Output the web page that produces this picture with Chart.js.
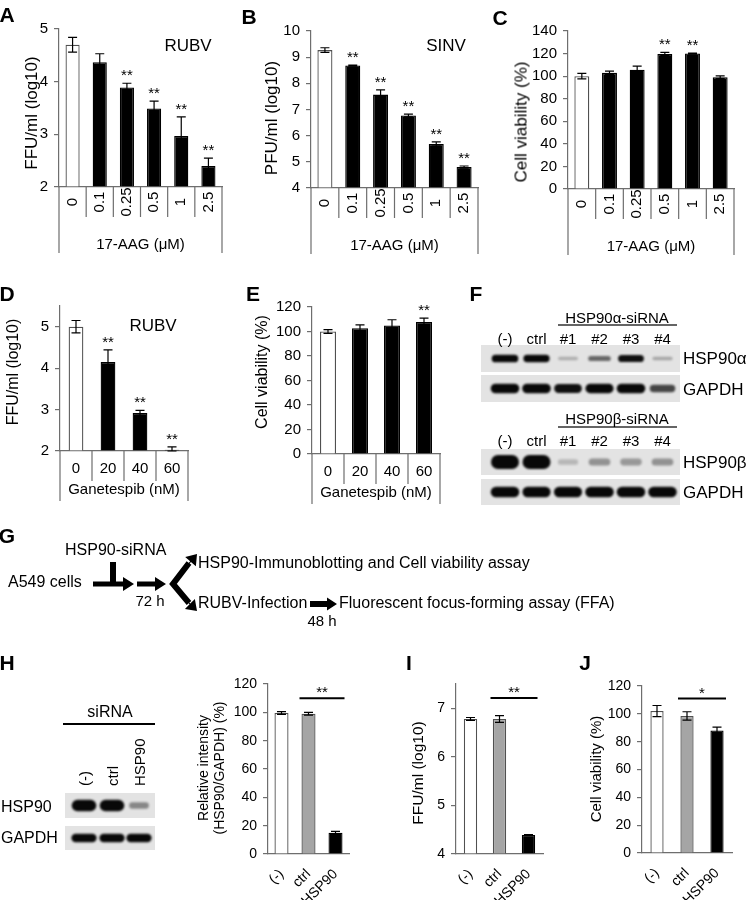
<!DOCTYPE html>
<html>
<head>
<meta charset="utf-8">
<script src="https://cdn.jsdelivr.net/npm/chart.js@4.4.1/dist/chart.umd.min.js"></script>
<style>
  body { margin: 0; background: #fff; }
  #fig { position: relative; width: 750px; height: 900px; overflow: hidden; background: #fff;
         font-family: 'Liberation Sans', Arial, sans-serif; color: #000; }
  #fig canvas { position: absolute; left: 0; top: 0; }
  .t { position: absolute; white-space: nowrap; line-height: 1; }
</style>
</head>
<body>
<div id="fig"><canvas id="deco" width="750" height="900"></canvas></div>
<script>
// values
const aagDoses = ['0', '0.1', '0.25', '0.5', '1', '2.5'];
const rubvA = [4.70, 4.37, 3.89, 3.49, 2.97, 2.40];
const rubvAErr = [0.14, 0.16, 0.08, 0.14, 0.36, 0.15];
const rubvASig = ['', '', '**', '**', '**', '**'];
const sinvB = [9.27, 8.68, 7.57, 6.77, 5.68, 4.80];
const sinvBErr = [0.09, 0.02, 0.18, 0.05, 0.08, 0.04];
const sinvBSig = ['', '**', '**', '**', '**', '**'];
const viabC = [100, 102.9, 105.6, 119.6, 120, 99];
const viabCErr = [2.4, 1.5, 3.2, 1.5, 0.5, 1.2];
const viabCSig = ['', '', '', '**', '**', ''];
const ganDoses = ['0', '20', '40', '60'];
const rubvD = [5.0, 4.15, 2.92, 2.03];
const rubvDErr = [0.15, 0.29, 0.06, 0.07];
const rubvDSig = ['', '**', '**', '**'];
const viabE = [100, 102.7, 105, 107.8];
const viabEErr = [1.5, 2.7, 4.6, 3.2];
const viabESig = ['', '', '', '**'];
const siLanes = ['(-)', 'ctrl', 'HSP90'];
const relIntH = [99.5, 99, 15];
const relIntHErr = [1, 1, 1];
const ffuI = [6.78, 6.78, 4.39];
const ffuIErr = [0.03, 0.07, 0.01];
const viabJ = [102, 98.5, 88];
const viabJErr = [4, 3, 2.5];

// blot band strengths (0..1)
const fLanes = ['(-)', 'ctrl', '#1', '#2', '#3', '#4'];
const hsp90aBands = [0.95, 0.9, 0.12, 0.45, 0.85, 0.15];
const gapdhABands = [0.95, 0.95, 0.85, 0.9, 0.95, 0.6];
const hsp90bBands = [1, 1, 0.08, 0.25, 0.22, 0.25];
const gapdhBBands = [0.95, 0.9, 0.9, 0.95, 0.95, 0.95];
const hHspBands = [0.95, 0.95, 0.3];
const hGapdhBands = [0.9, 0.9, 0.9];

const FONT = "'Liberation Sans', Arial, sans-serif";
const AXIS = '#6e6e6e';
Chart.defaults.font.family = FONT;
Chart.defaults.color = '#000';

const fig = document.getElementById('fig');
const fillOf = { w: '#ffffff', g: '#a5a5a5', k: '#000000' };
const edgeOf = { w: '#505050', g: '#505050', k: '#000000' };

function txt(s, x, y, size, opt = {}) {
  const d = document.createElement('div');
  d.className = 't';
  d.textContent = s;
  d.style.left = x + 'px';
  d.style.top = y + 'px';
  d.style.fontSize = size + 'px';
  if (opt.bold) d.style.fontWeight = 'bold';
  if (opt.width) { d.style.width = opt.width + 'px'; d.style.textAlign = 'left'; }
  const ax = opt.align === 'left' ? '0' : '-50%';
  d.style.transform = 'translate(' + ax + ',-50%)' + (opt.rot ? ' rotate(' + opt.rot + 'deg)' : '');
  fig.appendChild(d);
}

// error bars + asterisks
const errBars = {
  id: 'errBars',
  afterDatasetsDraw(chart, args, o) {
    const ctx = chart.ctx, ys = chart.scales.y;
    const vals = chart.data.datasets[0].data;
    ctx.save();
    ctx.strokeStyle = '#000';
    ctx.lineWidth = 1.2;
    ctx.fillStyle = '#000';
    ctx.font = '15px ' + FONT;
    ctx.textAlign = 'center';
    chart.getDatasetMeta(0).data.forEach((bar, i) => {
      const hi = ys.getPixelForValue(vals[i] + o.errors[i]);
      const lo = ys.getPixelForValue(Math.max(vals[i] - o.errors[i], ys.min));
      ctx.beginPath();
      ctx.moveTo(bar.x, hi); ctx.lineTo(bar.x, lo);
      ctx.moveTo(bar.x - 4.5, hi); ctx.lineTo(bar.x + 4.5, hi);
      ctx.moveTo(bar.x - 4.5, lo); ctx.lineTo(bar.x + 4.5, lo);
      ctx.stroke();
      if (o.sig && o.sig[i]) ctx.fillText(o.sig[i], bar.x, hi - 3);
    });
    ctx.restore();
  }
};

// excel-like boxed category axis
const groupAxis = {
  id: 'groupAxis',
  afterDraw(chart, args, o) {
    const ctx = chart.ctx, a = chart.chartArea, xs = chart.scales.x;
    const n = chart.data.labels.length;
    ctx.save();
    ctx.strokeStyle = AXIS;
    ctx.lineWidth = 1.2;
    ctx.beginPath();
    for (let i = 0; i <= n; i++) {
      const edge = i === 0 || i === n;
      const px = i === 0 ? a.left : i === n ? a.right : (xs.getPixelForTick(i - 1) + xs.getPixelForTick(i)) / 2;
      ctx.moveTo(px, a.bottom);
      ctx.lineTo(px, a.bottom + (edge ? o.outer : o.inner));
    }
    ctx.stroke();
    ctx.fillStyle = '#000';
    ctx.textAlign = 'center';
    ctx.textBaseline = 'middle';
    ctx.font = o.labelSize + 'px ' + FONT;
    chart.data.labels.forEach((lab, i) => {
      ctx.save();
      ctx.translate(xs.getPixelForTick(i), a.bottom + o.labelOffset);
      if (o.rotate) ctx.rotate(-Math.PI / 2);
      ctx.fillText(lab, 0, 0);
      ctx.restore();
    });
    ctx.font = o.titleSize + 'px ' + FONT;
    ctx.fillText(o.title, (a.left + a.right) / 2, a.bottom + o.titleOffset);
    ctx.restore();
  }
};

// significance bracket
const bracket = {
  id: 'bracket',
  afterDraw(chart, args, o) {
    const ctx = chart.ctx, xs = chart.scales.x, ys = chart.scales.y;
    const x1 = xs.getPixelForTick(o.from) - 9, x2 = xs.getPixelForTick(o.to) + 9;
    const y = ys.getPixelForValue(o.level);
    ctx.save();
    ctx.strokeStyle = '#000';
    ctx.lineWidth = 2;
    ctx.beginPath(); ctx.moveTo(x1, y); ctx.lineTo(x2, y); ctx.stroke();
    ctx.fillStyle = '#000';
    ctx.font = '15px ' + FONT;
    ctx.textAlign = 'center';
    ctx.fillText(o.text, (x1 + x2) / 2, y - 1);
    ctx.restore();
  }
};

// each chart gets a full-page canvas; paddings put the plot area at page coords L,R,T,B
function barChart(o) {
  const cv = document.createElement('canvas');
  cv.width = 750; cv.height = 900;
  fig.appendChild(cv);
  const kinds = o.kinds.split('');
  return new Chart(cv, {
    type: 'bar',
    data: {
      labels: o.labels,
      datasets: [{
        data: o.values,
        base: o.min,
        backgroundColor: kinds.map(k => fillOf[k]),
        borderColor: kinds.map(k => edgeOf[k]),
        borderWidth: 1.3,
        barPercentage: o.barPct,
        categoryPercentage: 1
      }]
    },
    options: {
      responsive: false,
      animation: false,
      devicePixelRatio: 1,
      layout: { padding: { top: o.T, right: 750 - o.R, left: 0, bottom: 0 } },
      plugins: {
        legend: { display: false },
        tooltip: { enabled: false },
        errBars: { errors: o.errors, sig: o.sig },
        groupAxis: o.group || false,
        bracket: o.bracket || false
      },
      scales: {
        x: {
          afterFit: s => { s.height = 900 - o.B; },
          grid: { display: false },
          border: { color: AXIS, width: 1.2 },
          ticks: o.rot45
            ? { minRotation: 45, maxRotation: 45, autoSkip: false, padding: 4, font: { size: 14 }, color: '#000' }
            : { display: false }
        },
        y: {
          min: o.min,
          max: o.max,
          afterFit: s => { s.width = o.L; },
          afterBuildTicks: s => {
            s.ticks = s.ticks.filter(t => Math.abs(t.value / o.step - Math.round(t.value / o.step)) < 1e-6);
          },
          ticks: { stepSize: o.step, padding: 6, font: { size: o.tickSize }, color: '#000' },
          grid: { drawOnChartArea: false, tickLength: 5, color: AXIS, lineWidth: 1.2 },
          border: { color: AXIS, width: 1.2 }
        }
      }
    },
    plugins: [errBars, groupAxis, bracket]
  });
}

const aagAxis = { inner: 30, outer: 66, labelOffset: 15, rotate: true, labelSize: 15, title: '17-AAG (μM)', titleOffset: 58, titleSize: 15 };
const ganAxis = { inner: 30, outer: 50, labelOffset: 18, rotate: false, labelSize: 15, title: 'Ganetespib (nM)', titleOffset: 39, titleSize: 15 };

barChart({ labels: aagDoses, values: rubvA, errors: rubvAErr, sig: rubvASig, kinds: 'wkkkkk',
  L: 59, R: 222, T: 29, B: 187, min: 2, max: 5, step: 1, tickSize: 15, barPct: 0.52, group: aagAxis });
barChart({ labels: aagDoses, values: sinvB, errors: sinvBErr, sig: sinvBSig, kinds: 'wkkkkk',
  L: 311, R: 478, T: 31, B: 188, min: 4, max: 10, step: 1, tickSize: 15, barPct: 0.54, group: aagAxis });
barChart({ labels: aagDoses, values: viabC, errors: viabCErr, sig: viabCSig, kinds: 'wkkkkk',
  L: 568, R: 734, T: 31, B: 189, min: 0, max: 140, step: 20, tickSize: 15, barPct: 0.54, group: aagAxis });
barChart({ labels: ganDoses, values: rubvD, errors: rubvDErr, sig: rubvDSig, kinds: 'wkkk',
  L: 60, R: 188, T: 306, B: 451, min: 2, max: 5.5, step: 1, tickSize: 15, barPct: 0.46, group: ganAxis });
barChart({ labels: ganDoses, values: viabE, errors: viabEErr, sig: viabESig, kinds: 'wkkk',
  L: 312, R: 440, T: 307, B: 454, min: 0, max: 120, step: 20, tickSize: 15, barPct: 0.5, group: ganAxis });
barChart({ labels: siLanes, values: relIntH, errors: relIntHErr, sig: null, kinds: 'wgk',
  L: 268, R: 349, T: 684, B: 854, min: 0, max: 120, step: 20, tickSize: 14, barPct: 0.52, rot45: true,
  bracket: { from: 1, to: 2, level: 110, text: '**' } });
barChart({ labels: siLanes, values: ffuI, errors: ffuIErr, sig: null, kinds: 'wgk',
  L: 456, R: 543, T: 684, B: 854, min: 4, max: 7.5, step: 1, tickSize: 14, barPct: 0.46, rot45: true,
  bracket: { from: 1, to: 2, level: 7.21, text: '**' } });
barChart({ labels: siLanes, values: viabJ, errors: viabJErr, sig: null, kinds: 'wgk',
  L: 642, R: 732, T: 686, B: 853, min: 0, max: 120, step: 20, tickSize: 14, barPct: 0.44, rot45: true,
  bracket: { from: 1, to: 2, level: 111, text: '*' } });

// axis titles and annotations
txt('FFU/ml (log10)', 31, 113, 17, { rot: -90 });
txt('PFU/ml (log10)', 271, 118, 17, { rot: -90 });
txt('Cell viability (%)', 521, 122, 17, { rot: -90 });
txt('FFU/ml (log10)', 13, 372, 16, { rot: -90 });
txt('Cell viability (%)', 262, 372, 16, { rot: -90 });
txt('Relative intensity', 203, 768, 14, { rot: -90 });
txt('(HSP90/GAPDH) (%)', 219, 768, 14, { rot: -90 });
txt('FFU/ml (log10)', 418, 773, 15.5, { rot: -90 });
txt('Cell viability (%)', 595, 769, 15, { rot: -90 });
txt('RUBV', 188, 45, 17);
txt('SINV', 446, 45, 17);
txt('RUBV', 153, 325, 17);

[['A', 7, 14], ['B', 249, 16], ['C', 500, 17], ['D', 7, 293], ['E', 253, 293], ['F', 476, 293],
 ['G', 7, 535], ['H', 7, 662], ['I', 409, 662], ['J', 585, 662]].forEach(p => txt(p[0], p[1], p[2], 21, { bold: true }));

// blots and schematic
const dc = document.getElementById('deco').getContext('2d');

function pill(cx, cy, w, t) {
  const r = t / 2;
  dc.beginPath();
  dc.moveTo(cx - w / 2 + r, cy - r);
  dc.lineTo(cx + w / 2 - r, cy - r);
  dc.arc(cx + w / 2 - r, cy, r, -Math.PI / 2, Math.PI / 2);
  dc.lineTo(cx - w / 2 + r, cy + r);
  dc.arc(cx - w / 2 + r, cy, r, Math.PI / 2, Math.PI * 1.5);
  dc.closePath();
  dc.fill();
}

function strip(x, y, w, h, centers, levels, bandW, bandH) {
  dc.fillStyle = '#e3e3e3';
  dc.fillRect(x, y, w, h);
  centers.forEach((cx, i) => {
    const lv = levels[i];
    dc.save();
    dc.filter = 'blur(1.2px)';
    dc.fillStyle = 'rgba(8,8,8,' + Math.min(1, 0.12 + lv) + ')';
    pill(cx, y + h / 2, bandW * (0.7 + 0.3 * lv), bandH * (0.35 + 0.65 * lv));
    dc.restore();
  });
}

const fLaneX = fLanes.map((_, i) => 505 + 31.5 * i);
strip(481, 345, 199, 27, fLaneX, hsp90aBands, 27, 8);
strip(481, 375, 199, 27, fLaneX, gapdhABands, 29, 10);
strip(481, 449, 199, 26, fLaneX, hsp90bBands, 28, 14);
strip(481, 479, 199, 26, fLaneX, gapdhBBands, 29, 11);

dc.strokeStyle = '#333';
dc.lineWidth = 1.5;
dc.beginPath();
dc.moveTo(558, 325); dc.lineTo(677, 325);
dc.moveTo(558, 427); dc.lineTo(677, 427);
dc.stroke();
txt('HSP90α-siRNA', 617, 317, 15);
txt('HSP90β-siRNA', 617, 418, 15);
fLanes.forEach((l, i) => { txt(l, fLaneX[i], 338, 15); txt(l, fLaneX[i], 440, 15); });
txt('HSP90α', 683, 358, 17, { align: 'left' });
txt('GAPDH', 683, 389, 17, { align: 'left' });
txt('HSP90β', 683, 462, 17, { align: 'left' });
txt('GAPDH', 683, 492, 17, { align: 'left' });

const hLaneX = [84, 112, 139];
strip(65, 793, 90, 25, hLaneX, hHspBands, 25, 12);
strip(65, 826, 90, 24, hLaneX, hGapdhBands, 26, 9);
dc.strokeStyle = '#000';
dc.lineWidth = 2;
dc.beginPath(); dc.moveTo(63, 724); dc.lineTo(155, 724); dc.stroke();
txt('siRNA', 110, 712, 16);
siLanes.forEach((l, i) => txt(l, hLaneX[i], 786 - 30, 15, { rot: -90, width: 60 }));
txt('HSP90', 1, 807, 16, { align: 'left' });
txt('GAPDH', 1, 838, 16, { align: 'left' });

function blockArrow(x1, y1, x2, y2, t, hl, hw) {
  const ang = Math.atan2(y2 - y1, x2 - x1), len = Math.hypot(x2 - x1, y2 - y1);
  dc.save();
  dc.translate(x1, y1);
  dc.rotate(ang);
  dc.fillStyle = '#000';
  dc.beginPath();
  dc.moveTo(0, -t / 2); dc.lineTo(len - hl, -t / 2); dc.lineTo(len - hl, -hw / 2);
  dc.lineTo(len, 0); dc.lineTo(len - hl, hw / 2); dc.lineTo(len - hl, t / 2); dc.lineTo(0, t / 2);
  dc.closePath();
  dc.fill();
  dc.restore();
}

dc.fillStyle = '#000';
dc.fillRect(110, 562, 6, 24);
blockArrow(93, 584, 134, 584, 5, 11, 14);
blockArrow(137, 584, 166, 584, 5, 11, 14);
dc.strokeStyle = '#000';
dc.lineWidth = 6;
dc.lineJoin = 'miter';
dc.beginPath(); dc.moveTo(189, 563); dc.lineTo(173, 584); dc.lineTo(189, 603); dc.stroke();
blockArrow(186, 567, 197, 554, 1, 10, 14);
blockArrow(186, 600, 197, 611, 1, 10, 14);
blockArrow(310, 604, 337, 604, 6, 10, 13);

txt('HSP90-siRNA', 65, 550, 16, { align: 'left' });
txt('A549 cells', 8, 582, 16, { align: 'left' });
txt('72 h', 150, 600, 15);
txt('HSP90-Immunoblotting and Cell viability assay', 198, 563, 16, { align: 'left' });
txt('RUBV-Infection', 198, 603, 16, { align: 'left' });
txt('Fluorescent focus-forming assay (FFA)', 339, 603, 16, { align: 'left' });
txt('48 h', 322, 620, 15);
</script>
</body>
</html>
